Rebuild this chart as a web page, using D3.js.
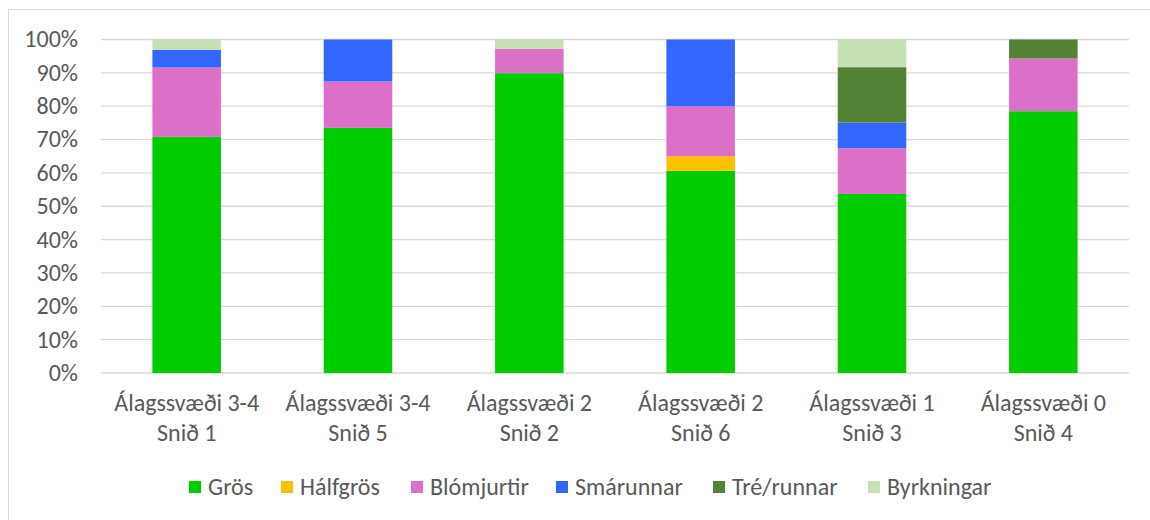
<!DOCTYPE html>
<html>
<head>
<meta charset="utf-8">
<script src="https://cdn.jsdelivr.net/npm/d3@7"></script>
<style>
body{margin:0;background:#fff;}
text{font-family:Calibri,Carlito,"Open Sans",sans-serif;fill:#595959;}
</style>
</head>
<body>
<div id="canvas"></div>
<script>
// categories (two-line labels) and series values in %
var categories = ['Álagssvæði 3-4|Snið 1','Álagssvæði 3-4|Snið 5','Álagssvæði 2|Snið 2',
                  'Álagssvæði 2|Snið 6','Álagssvæði 1|Snið 3','Álagssvæði 0|Snið 4'];
var seriesNames = ['Grös','Hálfgrös','Blómjurtir','Smárunnar','Tré/runnar','Byrkningar'];
var gros       = [70.8, 73.5, 89.9, 60.6, 53.7, 78.5];
var halfgros   = [0, 0, 0, 4.4, 0, 0];
var blomjurtir = [20.8, 13.9, 7.3, 15.0, 13.7, 15.8];
var smarunnar  = [5.3, 12.6, 0, 20.0, 7.7, 0];
var trerunnar  = [0, 0, 0, 0, 16.6, 5.7];
var byrkningar = [3.1, 0, 2.8, 0, 8.3, 0];
var yTicks = [0,10,20,30,40,50,60,70,80,90,100];
var colors = ['#00cc00','#ffc000','#dc70c9','#3366ff','#538135','#c5e0b4'];

var W = 1150, H = 520;
var m = {t:39.5, r:21, b:147, l:101};
var w = W - m.l - m.r, h = H - m.t - m.b;
var fs = '24px';

var svg = d3.select('#canvas').append('svg')
    .attr('width',W).attr('height',H);

svg.append('rect')
    .attr('x',8.5).attr('y',9.5)
    .attr('width',W).attr('height',H)
    .attr('fill','none').attr('stroke','#d9d9d9');

var plot = svg.append('g')
    .attr('transform','translate(' + m.l + ',' + m.t + ')');

var rows = categories.map(function(c,i){
    return {cat:c,'Grös':gros[i],'Hálfgrös':halfgros[i],'Blómjurtir':blomjurtir[i],
            'Smárunnar':smarunnar[i],'Tré/runnar':trerunnar[i],'Byrkningar':byrkningar[i]};
});
var stack = d3.stack().keys(seriesNames)(rows);

var scaleX = d3.scaleBand().domain(categories).range([0,w])
    .paddingInner(0.6).paddingOuter(0.3);
var scaleY = d3.scaleLinear().domain([0,100]).range([h,0]);

// gridlines
plot.selectAll('.grid').data(yTicks).enter().append('line')
    .attr('x1',0).attr('x2',w)
    .attr('y1',function(d){return scaleY(d);})
    .attr('y2',function(d){return scaleY(d);})
    .attr('stroke','#d9d9d9').attr('stroke-width',1.3);

// y tick labels
plot.selectAll('.ytick').data(yTicks).enter().append('text')
    .attr('x',-23).attr('y',function(d){return scaleY(d);})
    .attr('dy','0.33em').attr('text-anchor','end')
    .style('font-size',fs)
    .text(function(d){return d + '%';});

// bars
plot.selectAll('.series').data(stack).enter().append('g')
    .attr('fill',function(d,i){return colors[i];})
    .selectAll('rect').data(function(d){return d;}).enter().append('rect')
    .attr('x',function(d){return scaleX(d.data.cat);})
    .attr('width',scaleX.bandwidth())
    .attr('y',function(d){return scaleY(d[1]);})
    .attr('height',function(d){return scaleY(d[0]) - scaleY(d[1]);});

// category labels
var cl = plot.selectAll('.xlab').data(categories).enter().append('text')
    .attr('text-anchor','middle')
    .attr('transform',function(d){return 'translate(' + (scaleX(d)+scaleX.bandwidth()/2) + ',' + (h+38) + ')';})
    .style('font-size',fs);
cl.append('tspan').attr('x',0).attr('y',0).text(function(d){return d.split('|')[0];});
cl.append('tspan').attr('x',0).attr('y',30).text(function(d){return d.split('|')[1];});

// legend
var legX = [189, 281, 411, 556, 713, 868];
var leg = svg.selectAll('.leg').data(seriesNames).enter().append('g')
    .attr('transform',function(d,i){return 'translate(' + legX[i] + ',481)';});
leg.append('rect').attr('width',12).attr('height',12)
    .attr('fill',function(d,i){return colors[i];});
leg.append('text').attr('x',19).attr('y',14)
    .style('font-size',fs).text(function(d){return d;});
</script>
</body>
</html>
